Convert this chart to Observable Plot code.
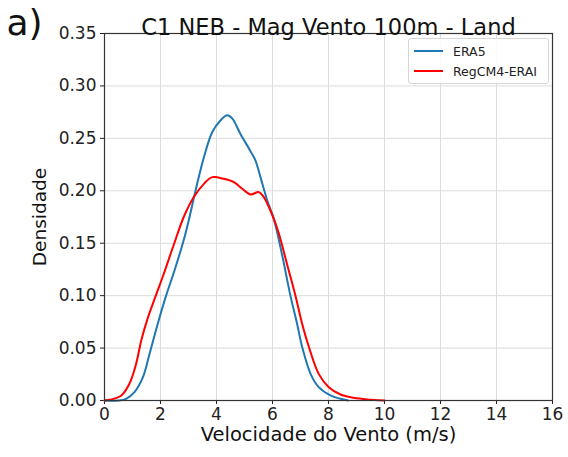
<!DOCTYPE html>
<html>
<head>
<meta charset="utf-8">
<script src="https://cdn.jsdelivr.net/npm/d3@7"></script>
<script src="https://cdn.jsdelivr.net/npm/@observablehq/plot@0.6"></script>
<style>
  html, body { margin: 0; padding: 0; background: #fff; }
  #wrap { position: relative; width: 568px; height: 457px; font-family: "DejaVu Sans", sans-serif; }
  #legend { position: absolute; left: 408px; top: 38px; width: 139px; height: 44px;
    border: 1px solid #d6d6d6; border-radius: 3px; background: rgba(255,255,255,0.85);
    font-size: 12.5px; color: #222; }
  .row { position: absolute; left: 0; display: flex; align-items: center; height: 20px; }
  .sw { width: 29px; height: 0; border-top: 2px solid; margin-left: 5px; margin-right: 10px; }
</style>
</head>
<body>
<div id="wrap"></div>
<script>
// ERA5 density curve
const era5V = [0, 0.5, 0.77, 1.07, 1.37, 1.61, 1.9, 2.2, 2.5, 2.83, 3.01, 3.25, 3.55, 3.85, 4.14, 4.38, 4.56, 4.86, 5.21, 5.39, 5.57, 5.81, 6.05, 6.35, 6.64, 6.88, 7.06, 7.36, 7.65, 8.07, 8.43, 8.7];
const era5D = [0, 0, 0.0016, 0.008, 0.022, 0.0445, 0.073, 0.1, 0.124, 0.153, 0.172, 0.2, 0.232, 0.256, 0.267, 0.272, 0.269, 0.254, 0.238, 0.229, 0.213, 0.191, 0.173, 0.138, 0.1, 0.073, 0.051, 0.0254, 0.0127, 0.0048, 0.0016, 0];
// RegCM4-ERAI density curve
const regV = [0, 0.24, 0.6, 0.89, 1.13, 1.31, 1.55, 1.79, 2.08, 2.48, 2.83, 3.19, 3.55, 3.85, 4.26, 4.62, 4.92, 5.21, 5.51, 5.69, 6.05, 6.23, 6.52, 6.82, 7.06, 7.3, 7.65, 8.01, 8.43, 8.9, 9.38, 10.0];
const regD = [0, 0.001, 0.0048, 0.016, 0.035, 0.057, 0.079, 0.097, 0.118, 0.149, 0.175, 0.194, 0.2066, 0.213, 0.2114, 0.2082, 0.2019, 0.1965, 0.1987, 0.194, 0.173, 0.159, 0.13, 0.1, 0.073, 0.051, 0.0254, 0.0127, 0.0057, 0.0026, 0.001, 0];

const seriesNames = ["ERA5", "RegCM4-ERAI"];
const seriesColors = ["#1f77b4", "#ff0000"];
const xTicks = [0, 2, 4, 6, 8, 10, 12, 14, 16];
const yTicks = [0, 0.05, 0.10, 0.15, 0.20, 0.25, 0.30, 0.35];
const titleText = "C1 NEB - Mag Vento 100m - Land";
const panelText = "a)";
const xLabel = "Velocidade do Vento (m/s)";
const yLabel = "Densidade";

const era5 = era5V.map((v, i) => ({v, d: era5D[i]}));
const reg = regV.map((v, i) => ({v, d: regD[i]}));

const chart = Plot.plot({
  width: 568, height: 457,
  marginLeft: 104, marginRight: 16, marginTop: 33, marginBottom: 57,
  style: {fontFamily: "DejaVu Sans, sans-serif", color: "#222", background: "white"},
  x: {domain: [0, 16]},
  y: {domain: [0, 0.35]},
  marks: [
    Plot.gridX(xTicks, {stroke: "#dcdcdc", strokeOpacity: 1, strokeWidth: 1}),
    Plot.gridY(yTicks, {stroke: "#dcdcdc", strokeOpacity: 1, strokeWidth: 1}),
    Plot.axisX({ticks: xTicks, tickSize: 4, tickPadding: 3, fontSize: 17, label: null, tickFormat: d => String(d)}),
    Plot.axisY({ticks: yTicks, tickSize: 4, tickPadding: 4, fontSize: 17, label: null, tickFormat: d3.format(".2f")}),
    Plot.line(era5, {x: "v", y: "d", stroke: seriesColors[0], strokeWidth: 2, curve: "catmull-rom"}),
    Plot.line(reg, {x: "v", y: "d", stroke: seriesColors[1], strokeWidth: 2, curve: "catmull-rom"}),
    Plot.frame({stroke: "#333", strokeWidth: 1.2}),
    Plot.text([titleText], {frameAnchor: "top", dy: -14, fontSize: 22.5, fill: "#111"}),
    Plot.text([xLabel], {frameAnchor: "bottom", dy: 40, fontSize: 19.5, fill: "#111"}),
    Plot.text([yLabel], {frameAnchor: "left", textAnchor: "middle", dx: -64, rotate: -90, fontSize: 18.5, fill: "#111"}),
    Plot.text([panelText], {frameAnchor: "top-left", textAnchor: "start", lineAnchor: "top", dx: -98, dy: -24, fontSize: 36, fill: "#111"})
  ]
});

const wrap = document.getElementById("wrap");
wrap.appendChild(chart);

const legend = document.createElement("div");
legend.id = "legend";
seriesNames.forEach((name, i) => {
  const row = document.createElement("div");
  row.className = "row";
  row.style.top = (2 + i * 20) + "px";
  const sw = document.createElement("div");
  sw.className = "sw";
  sw.style.borderTopColor = seriesColors[i];
  const t = document.createElement("span");
  t.textContent = name;
  row.appendChild(sw); row.appendChild(t);
  legend.appendChild(row);
});
wrap.appendChild(legend);
</script>
</body>
</html>
